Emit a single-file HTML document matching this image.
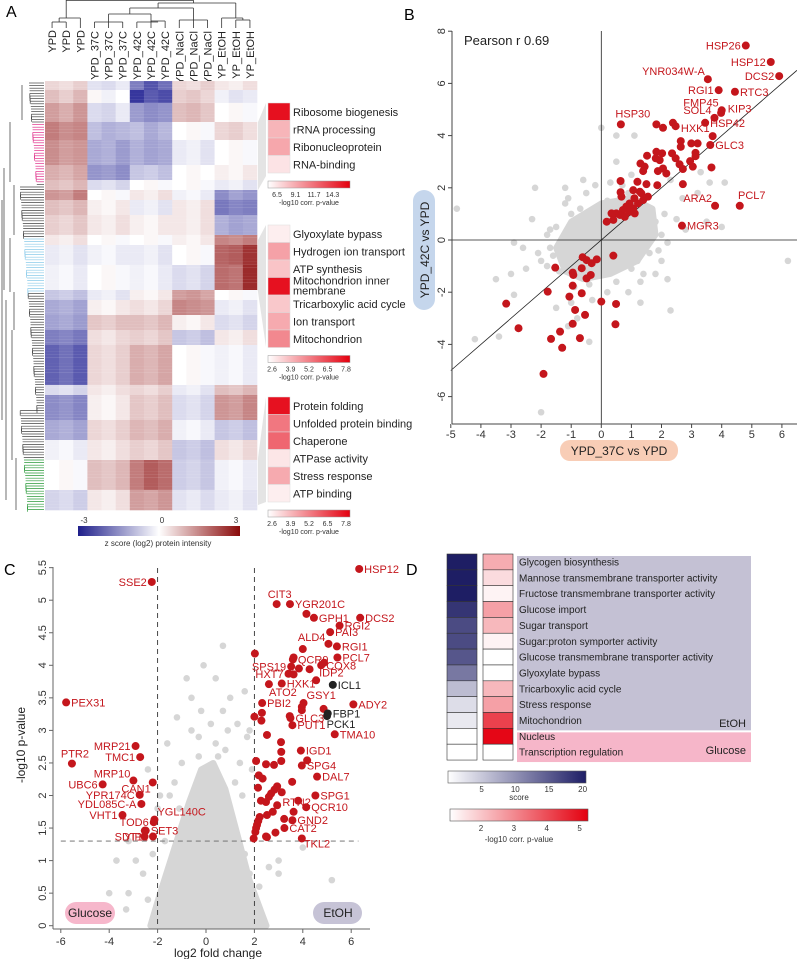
<!DOCTYPE html>
<html><head><meta charset="utf-8"><style>
body{margin:0;background:#fff}
svg{display:block;font-family:"Liberation Sans",Arial,sans-serif}
</style></head><body>
<svg id="fig" width="797" height="959" viewBox="0 0 797 959" xmlns="http://www.w3.org/2000/svg">
<g id="pA"></g>
<g id="pB"></g>
<g id="pC"></g>
<g id="pD"></g>
</svg>
<script>
// ================= DATA =================
const aColumns = ["YPD","YPD","YPD","YPD_37C","YPD_37C","YPD_37C","YPD_42C","YPD_42C","YPD_42C","YPD_NaCl","YPD_NaCl","YPD_NaCl","YP_EtOH","YP_EtOH","YP_EtOH"];
const aBandRows = [9,13,19,18,25,15,10,10,15,20,10,20,25,10,15,15,15,40,10,25,20,20,30,20];
const aBandValues = [
 [0.5,0.4,0.6,-0.4,-0.5,-0.3,-1.8,-2.4,-2.0,0.5,0.4,0.6,0.3,0.2,0.4],
 [0.8,0.6,0.9,0.1,-0.2,0.0,-2.8,-2.3,-2.5,0.6,0.7,0.5,-0.2,-0.4,-0.3],
 [1.2,1.0,1.3,-0.5,-0.6,-0.3,-1.4,-1.6,-1.5,0.8,0.9,0.7,0.0,0.1,-0.1],
 [1.6,1.4,1.5,-0.9,-1.1,-1.0,-0.9,-1.2,-1.0,0.0,0.1,-0.1,0.5,0.6,0.4],
 [1.4,1.2,1.3,-1.2,-1.1,-1.4,-1.1,-1.3,-1.2,-0.3,-0.2,-0.4,0.0,0.1,-0.1],
 [1.0,0.9,1.1,-1.5,-1.4,-1.6,-0.8,-0.7,-0.9,0.0,0.1,0.0,0.2,0.1,0.3],
 [0.8,0.7,0.9,-0.5,-0.4,-0.6,0.0,0.1,-0.1,0.0,0.1,-0.1,-0.3,-0.2,-0.4],
 [1.3,1.2,1.6,0.0,0.1,-0.1,0.3,0.2,0.4,-0.2,-0.1,-0.3,-1.6,-1.3,-1.5],
 [0.8,0.7,0.9,0.2,0.1,0.3,-0.3,-0.2,-0.4,0.3,0.2,0.4,-1.9,-1.7,-1.8],
 [0.6,0.5,0.7,0.3,0.2,0.4,0.2,0.1,0.3,0.3,0.2,0.4,-1.1,-1.3,-1.2],
 [0.3,0.2,0.4,0.0,0.1,-0.1,0.0,0.1,-0.1,0.2,0.1,0.3,1.5,1.4,1.6],
 [-0.3,-0.2,-0.4,-0.2,-0.1,-0.3,-0.3,-0.2,-0.4,0.0,0.1,-0.1,1.9,2.0,2.5],
 [-0.2,-0.1,-0.3,0.0,0.1,-0.1,-0.2,-0.1,-0.3,-0.5,-0.4,-0.6,1.8,1.7,2.6],
 [-0.8,-0.7,-0.9,-0.3,-0.2,-0.4,0.2,0.1,0.3,1.2,1.3,1.1,0.0,0.1,-0.1],
 [-1.2,-1.1,-1.3,0.2,0.1,0.3,0.4,0.3,0.5,1.5,1.4,1.3,-0.3,-0.2,-0.4],
 [-1.3,-1.2,-1.4,0.7,0.6,0.8,0.8,0.7,0.9,0.2,0.1,0.3,-0.5,-0.4,-0.6],
 [-1.8,-1.7,-1.9,0.4,0.3,0.5,0.6,0.5,0.7,-0.8,-0.7,-0.9,0.3,0.2,0.4],
 [-2.2,-2.0,-2.3,0.5,0.4,0.6,1.0,0.9,1.1,0.0,0.1,-0.1,-0.2,-0.1,-0.3],
 [-0.5,-0.4,-0.6,0.3,0.2,0.4,0.5,0.4,0.6,-0.3,-0.2,-0.4,0.8,0.7,0.9],
 [-1.6,-1.5,-1.7,0.2,0.1,0.3,0.7,0.6,0.8,-0.5,-0.4,-0.6,1.3,1.2,1.5],
 [-1.2,-1.1,-1.3,0.5,0.4,0.6,0.9,0.8,1.0,-0.2,-0.1,-0.3,-0.8,-0.7,-0.9],
 [-0.2,-0.1,-0.3,0.3,0.2,0.4,0.6,0.5,0.7,-0.8,-0.7,-0.9,0.4,0.3,0.5],
 [0.0,0.1,-0.1,0.8,0.7,0.9,1.6,2.0,1.8,-0.7,-0.6,-0.8,-0.2,-0.1,-0.3],
 [-0.6,-0.5,-0.7,0.3,0.2,0.4,1.2,1.1,1.3,-0.4,-0.3,-0.5,-0.3,-0.2,-0.4]
];
const aTerms1 = ["Ribosome biogenesis","rRNA processing","Ribonucleoprotein","RNA-binding"];
const aP1 = [14.3,7.2,7.8,5.2];
const aTerms2 = ["Glyoxylate bypass","Hydrogen ion transport","ATP synthesis","Mitochondrion inner membrane","Tricarboxylic acid cycle","Ion transport","Mitochondrion"];
const aP2 = [2.6,4.4,3.6,7.8,3.5,4.2,5.0];
const aTerms3 = ["Protein folding","Unfolded protein binding","Chaperone","ATPase activity","Stress response","ATP binding"];
const aP3 = [7.8,5.4,5.8,2.8,4.2,2.6];

const bRedX = [4.80,5.63,5.91,3.54,3.90,4.44,4.0,3.98,3.76,3.45,3.70,3.62,0.65,3.78,4.6,2.68,
 1.83,2.05,2.38,2.47,2.64,2.64,2.99,3.2,3.13,3.13,2.95,3.04,3.66,2.71,2.71,2.35,2.47,2.6,1.83,2.02,1.81,1.94,2.05,2.16,1.88,1.52,1.30,1.44,1.39,0.64,1.2,1.5,1.86,0.64,0.67,
 1.06,1.28,1.1,0.94,0.83,0.72,0.5,0.34,0.4,0.18,0.94,1.06,1.22,1.39,1.55,1.33,0.78,0.62,1.11,
 0.4,-0.62,-0.49,-0.15,-0.32,-0.65,-1.53,-0.95,-0.93,-0.35,-0.49,-0.95,-1.78,-0.65,-1.06,0,0.49,-3.16,-0.87,-0.54,-0.95,0.47,-2.75,-1.37,-1.67,-0.71,-1.3,-1.92];
const bRedY = [7.45,6.82,6.28,6.16,5.74,5.68,4.97,4.87,4.68,4.49,3.98,3.64,4.43,1.31,1.31,0.55,
 4.43,4.3,4.49,4.36,3.79,3.57,3.7,3.7,3.34,3.21,3.02,2.81,2.78,2.72,2.14,3.32,3.13,2.9,3.38,3.32,3.13,3.06,2.74,2.55,2.64,3.23,2.93,2.81,2.64,2.26,2.23,2.14,2.1,1.83,1.66,
 1.91,1.85,1.6,1.4,1.28,1.15,1.02,1.02,0.77,0.7,1.08,1.21,1.4,1.53,1.66,1.79,0.89,0.96,1.02,
 -0.6,-0.66,-0.77,-0.74,-0.89,-1.08,-1.06,-1.25,-1.34,-1.34,-1.47,-1.75,-1.98,-2.04,-2.17,-2.36,-2.45,-2.44,-2.68,-2.87,-3.21,-3.23,-3.38,-3.51,-3.79,-3.76,-4.13,-5.13];
const bGrayX = [-4.8,-4.2,-3.4,-3.5,-2.2,-1.2,-2.0,-2.9,-2.5,-3.0,-1.8,-1.5,-1.0,-0.4,-2.0,-0.6,-0.2,0.3,0.7,0.0,0.5,1.1,0.5,1.0,2.3,2.7,3.2,3.6,4.1,3.3,4.0,3.5,2.2,2.0,1.8,2.2,1.3,1.0,0.5,0.2,-0.3,-0.8,-1.1,1.3,2.3,-2.9,-2.1,-1.7,-1.2,-1.5,-1.0,-0.5,0.2,-0.3,6.2,
 -1,-0.8,-0.5,0.5,1,0.8,-1.3,-0.7,1.5,1.2,0.3,-0.2,1.8,2.0,-1.8,-1.4,0.0,0.6,1.6,2.5,2.8,-0.9,0.9,1.6,-2.3,-2.6,0.3,-1.6,-1.7,1.9,2.1,-0.4,0.9,-1.1,1.4];
const bGrayY = [1.2,-3.8,-3.7,-1.5,2.0,2.0,-0.8,-2.1,-1.1,-1.3,-1.0,-2.6,-2.4,-3.9,-6.6,2.3,2.1,2.2,2.1,4.3,4.0,4.0,3.0,2.5,2.3,1.6,1.8,2.2,2.2,2.6,0.5,0.7,-0.1,-0.8,-1.3,-1.5,-1.6,-1.1,-1.6,-2.0,-2.3,-3.0,-3.3,-2.4,-2.7,-0.1,-0.5,-0.3,1.4,0.5,1.0,1.8,1.5,0.8,-0.8,
 0,0.6,-0.5,0.5,-0.3,0.3,-0.6,1.2,0.2,-0.8,-1.0,-1.3,0.7,0.2,0.2,-1.2,1.2,1.5,1.1,0.8,0.4,-1.8,-2.0,-0.5,0.8,-0.3,0.9,-0.6,0.4,-0.4,1.0,-1.7,1.8,1.6,-1.3];
const bCoreX = [-1.2,-1.5,-1.0,0,1.0,1.7,1.8,1.2,0.3,-0.6];
const bCoreY = [-1.2,-0.3,0.7,1.4,1.6,1.2,0.2,-0.8,-1.3,-1.5];
const bLabels = [["HSP26",0,"L"],["HSP12",1,"L"],["DCS2",2,"L"],["YNR034W-A",3,"LU"],["RGI1",4,"L"],["RTC3",5,"R"],["FMP45",6,"LU"],["KIP3",6,"R"],["SOL4",8,"LU"],["HSP42",9,"R"],["HXK1",10,"LU"],["GLC3",11,"R"],["HSP30",12,"U"],["ARA2",13,"LU"],["PCL7",14,"U"],["MGR3",15,"R"]];
const bXTicks = [-5,-4,-3,-2,-1,0,1,2,3,4,5,6];
const bYTicks = [-6,-4,-2,0,2,4,6,8];

const cRedX = [6.33,-2.24,2.92,3.47,4.15,4.46,6.37,5.52,5.13,5.06,5.41,4.0,2.02,3.62,3.59,5.43,4.88,4.76,3.52,3.84,4.28,3.41,3.62,4.55,3.13,2.6,6.09,2.32,4.03,3.96,3.96,4.86,2.31,2.0,2.29,3.46,3.49,3.57,5.32,2.52,3.1,3.92,3.11,4.18,3.11,2.07,2.48,2.81,3.96,4.59,2.18,2.34,3.56,2.15,2.94,2.83,2.69,2.6,3.13,4.52,2.27,2.48,2.94,3.81,4.14,2.76,2.52,2.22,3.62,3.23,3.57,2.16,2.11,2.07,3.24,2.04,2.87,2.48,2.52,3.96,1.97,
 -5.78,-2.91,-2.72,-5.54,-3.0,-2.2,-4.27,-2.74,-2.67,-3.45,-2.13,-2.16,-2.49,-2.19,-2.53,-2.54];
const cRedY = [5.48,5.28,4.94,4.94,4.79,4.73,4.73,4.61,4.51,4.33,4.29,4.25,4.18,4.12,4.09,4.12,4.04,4.0,3.98,3.95,3.94,3.87,3.86,3.77,3.72,3.71,3.4,3.42,3.42,3.36,3.31,3.33,3.27,3.21,3.15,3.22,3.19,3.08,2.94,2.93,2.82,2.69,2.67,2.54,2.53,2.53,2.48,2.47,2.46,2.29,2.31,2.26,2.21,2.12,2.14,2.09,2.03,1.98,2.05,2.0,1.92,1.9,1.85,1.92,1.82,1.75,1.7,1.67,1.75,1.64,1.62,1.61,1.55,1.5,1.5,1.44,1.43,1.37,1.36,1.34,1.34,
 3.43,2.76,2.59,2.49,2.23,2.2,2.17,2.01,1.87,1.7,1.63,1.59,1.46,1.37,1.46,1.37];
const cBlackX = [5.24,5.03,5.0];
const cBlackY = [3.7,3.26,3.22];
const cGrayX = [-3.7,-3.2,-3.2,-2.9,-2.2,-1.5,-1.3,-2.0,-1.0,-1.7,-1.2,-1.6,-0.6,-0.2,-0.6,0.7,0.4,0.7,1.0,0.4,1.3,1.6,1.8,1.4,1.9,1.5,-0.8,-0.1,0.8,0.9,-2.4,1.7,-3.3,5.2,1.8,3.0,4.0,3.0,-0.5,-4.0,-2.6,2.6,-0.3,0.2,1.2,-1.9,-1.1,-0.9,-1.4,1.1,1.6,2.2,-2.4,-0.3,0.5];
const cGrayY = [1.0,0.5,1.3,1.0,1.1,2.0,2.2,1.8,2.5,1.3,3.2,2.8,3.5,3.3,3.0,4.3,3.8,3.3,3.5,2.8,3.1,3.6,3.0,2.5,2.4,2.0,3.8,4.0,2.7,3.0,2.4,2.9,0.25,0.7,0.8,1.0,1.2,0.8,1.0,0.5,0.8,0.9,2.9,3.1,2.2,2.0,1.8,1.5,0.9,1.6,1.1,0.6,0.4,2.6,2.6];
const cCoreX = [-2.3,-1.9,-1.3,-0.7,-0.2,0.3,0.8,1.3,1.8,2.2,2.5];
const cCoreY = [0,0.5,1.2,1.9,2.4,2.5,2.1,1.4,0.7,0.3,0];
const cLabels = [["HSP12",0,"R"],["SSE2",1,"L"],["CIT3",2,"U"],["YGR201C",3,"R"],["GPH1",5,"R"],["DCS2",6,"R"],["RGI2",7,"R"],["PAI3",8,"R"],["ALD4",9,"LU"],["RGI1",10,"R"],["QCR9",14,"R"],["PCL7",15,"R"],["COX8",17,"R"],["SPS19",18,"L"],["HXT7",21,"L"],["IDP2",23,"RU"],["HXK1",24,"R"],["ATO2",25,"D"],["ADY2",26,"R"],["PBI2",27,"R"],["GSY1",28,"RU"],["GLC3",36,"R"],["PUT1",37,"R"],["TMA10",38,"R"],["IGD1",41,"R"],["SPG4",48,"R"],["DAL7",49,"R"],["SPG1",59,"R"],["QCR10",64,"R"],["RTN2",68,"U"],["GND2",70,"R"],["CAT2",74,"R"],["TKL2",79,"RD"],
 ["PEX31",81,"R"],["MRP21",82,"L"],["TMC1",83,"L"],["PTR2",84,"U"],["MRP10",85,"LU"],["CAN1",86,"LD"],["UBC6",87,"L"],["YPR174C",88,"L"],["YDL085C-A",89,"L"],["VHT1",90,"L"],["YGL140C",91,"RU"],["TOD6",92,"L"],["SET3",93,"R"],["YIP1",94,"L"],["SDT1",95,"LD"]];
const cBlackLabels = [["ICL1",0,"R"],["FBP1",1,"R"],["PCK1",2,"D"]];
const cXTicks = [-6,-4,-2,0,2,4,6];
const cYTicks = [0,0.5,1,1.5,2,2.5,3,3.5,4,4.5,5,5.5];

const dTerms = ["Glycogen biosynthesis","Mannose transmembrane transporter activity","Fructose transmembrane transporter activity","Glucose import","Sugar transport","Sugar:proton symporter activity","Glucose transmembrane transporter activity","Glyoxylate bypass","Tricarboxylic acid cycle","Stress response","Mitochondrion","Nucleus","Transcription regulation"];
const dScores = [20,20,20,18,16,16,15,12,6,3,2,0,0];
const dPvals = [2.6,1.8,1.4,2.8,2.4,1.4,1.2,1.2,2.4,2.8,4.4,5.4,1.2];
const dScoreTicks = [5,10,15,20];
const dPTicks = [2,3,4,5];

// ================= HELPERS =================
const NS="http://www.w3.org/2000/svg";
function mk(parent,tag,attrs,txt){const e=document.createElementNS(NS,tag);for(const k in attrs)e.setAttribute(k,attrs[k]);if(txt!==undefined)e.textContent=txt;parent.appendChild(e);return e;}
function lerp(a,b,t){return Math.round(a+(b-a)*t);}
function mix(c1,c2,t){t=Math.max(0,Math.min(1,t));return `rgb(${lerp(c1[0],c2[0],t)},${lerp(c1[1],c2[1],t)},${lerp(c1[2],c2[2],t)})`;}
function zColor(z){return z<0?mix([255,255,255],[40,40,150],-z/3):mix([255,255,255],[140,10,10],z/3);}
function pRed(v,lo,hi){return mix([255,255,255],[228,0,16],(v-lo)/(hi-lo));}
const RED="#c4161c", GRAY="#d6d6d6";

// ================= PANEL A =================
(function(){
 const g=document.getElementById('pA');
 let t=mk(g,'text',{x:6,y:17,'font-size':16},'A');
 
 
 const x0=45,x1=257,y0=81,cw=(x1-x0)/aColumns.length;
 const dg=mk(g,'g',{stroke:'#333','stroke-width':0.8,fill:'none'});
 
 
 const cx=i=>x0+cw*(i+0.5);
 const segs=[[cx(0),28,cx(0),22],[cx(1),28,cx(1),22],[cx(0),22,cx(1),22],[cx(2),28,cx(2),20],[(cx(0)+cx(1))/2,22,(cx(0)+cx(1))/2,18],[(cx(0)+cx(1))/2,18,cx(2),18],[cx(2),20,cx(2),18],
 [cx(3),28,cx(3),22],[cx(4),28,cx(4),22],[cx(5),28,cx(5),22],[cx(3),22,cx(5),22],[cx(6),28,cx(6),22],[cx(7),28,cx(7),21],[cx(8),28,cx(8),21],[cx(7),21,cx(8),21],[cx(6),22,cx(7.5),22],[cx(4),22,cx(4),14],[cx(7),22,cx(7),14],[cx(4),14,cx(7),14],
 [cx(9),28,cx(9),20],[cx(10),28,cx(10),20],[cx(11),28,cx(11),20],[cx(9),20,cx(11),20],[cx(10),20,cx(10),8],[cx(5.5),14,cx(5.5),8],[cx(5.5),8,cx(10),8],
 [cx(12),28,cx(12),18],[cx(13),28,cx(13),20],[cx(14),28,cx(14),20],[cx(13),20,cx(14),20],[cx(13.5),20,cx(13.5),18],[cx(12),18,cx(13.5),18],[cx(13),18,cx(13),3],[cx(7.5),8,cx(7.5),3],[cx(7.5),3,cx(13),3],
 [cx(1),18,cx(1),0],[cx(10),3,cx(10),0],[cx(1),0.5,cx(10),0.5]];
 segs.forEach(s=>mk(dg,'line',{x1:s[0],y1:s[1],x2:s[2],y2:s[3]}));
 aColumns.forEach((c,i)=>{const e=mk(g,'text',{transform:`translate(${cx(i)+4},${c.length<4?30:31}) rotate(-90)`,'text-anchor':'end','font-size':11,fill:'#222'},c);
  
  });
 const hm=mk(g,'g',{});
 
 
 let y=y0;
 aBandRows.forEach((h,bi)=>{
  aBandValues[bi].forEach((v,ci)=>{
   const r=mk(hm,'rect',{x:x0+ci*cw,y:y,width:cw+0.3,height:h+0.3,fill:zColor(v)});
   
   
  });
  y+=h;
 });
 for(let yy=y0;yy<y;yy+=3){mk(hm,'rect',{x:x0,y:yy,width:x1-x0,height:1,fill:'#fff',opacity:((yy*7)%5)/40});}
 const rd=mk(g,'g',{'stroke-width':0.7,fill:'none'});
 
 
 for(let yy=y0+2;yy<y;yy+=2.6){
  let col='#444';
  if(yy>122&&yy<182)col='#e0308a';else if(yy>238&&yy<292)col='#8ccbea';else if(yy>458)col='#2a9a3a';
  const len=8+((yy*13)%17);
  mk(rd,'line',{x1:45-len,y1:yy,x2:44,y2:yy,stroke:col});
  if(Math.round(yy)%3===0)mk(rd,'line',{x1:45-len,y1:yy,x2:45-len,y2:yy+5,stroke:col});
 }
 [[22,85,120],[10,122,182],[14,185,235],[10,238,292],[14,292,330],[12,330,460],[16,458,510],[4,168,290],[2,200,420],[6,300,500]].forEach(s=>mk(rd,'line',{x1:s[0],y1:s[1],x2:s[0],y2:s[2],stroke:'#333'}));
 [[122,190,103,176],[240,292,225,347],[458,505,397,502]].forEach(c=>mk(g,'path',{d:`M258,${c[0]} L266,${c[2]} L266,${c[3]} L258,${c[1]}Z`,fill:'#e4e4e4'}));
 function legend(terms,vals,top,lo,hi,ticks,name){
  const lg=mk(g,'g',{});
  
  
  terms.forEach((tm,i)=>{
   const yy=top+i*17.5;
   const r=mk(lg,'rect',{x:268,y:yy,width:22,height:17.5,fill:pRed(vals[i],lo,hi),stroke:'#ddd','stroke-width':0.5});
   
   
   if(tm==="Mitochondrion inner membrane"){mk(lg,'text',{x:293,y:yy+7,'font-size':11,fill:'#222'},'Mitochondrion inner');mk(lg,'text',{x:293,y:yy+17,'font-size':11,fill:'#222'},'membrane');}
   else mk(lg,'text',{x:293,y:yy+13,'font-size':11,fill:'#222'},tm);
  });
  const cy=top+terms.length*17.5+8;
  const gid='grad'+name;
  const d=mk(lg,'defs',{});const gr=mk(d,'linearGradient',{id:gid});
  mk(gr,'stop',{offset:'0','stop-color':'#fff'});mk(gr,'stop',{offset:'1','stop-color':'#e4000f'});
  const cb=mk(lg,'rect',{x:268,y:cy,width:82,height:7,fill:`url(#${gid})`,stroke:'#999','stroke-width':0.5});
  
  
  ticks.forEach((tk,i)=>mk(lg,'text',{x:272+i*18.5+(ticks.length===4?5:0),y:cy+16,'font-size':7,'text-anchor':'middle',fill:'#333'},tk));
  mk(lg,'text',{x:309,y:cy+24,'font-size':7,'text-anchor':'middle',fill:'#333'},'-log10 corr. p-value');
 }
 legend(aTerms1,aP1,103,4,15,['6.5','9.1','11.7','14.3'],'legend-cluster-1');
 legend(aTerms2,aP2,225,2.2,8.2,['2.6','3.9','5.2','6.5','7.8'],'legend-cluster-2');
 legend(aTerms3,aP3,397,2.2,8.2,['2.6','3.9','5.2','6.5','7.8'],'legend-cluster-3');
 const d=mk(g,'defs',{});const gr=mk(d,'linearGradient',{id:'zgrad'});
 mk(gr,'stop',{offset:'0','stop-color':'#1e1e8a'});mk(gr,'stop',{offset:'0.5','stop-color':'#fff'});mk(gr,'stop',{offset:'1','stop-color':'#8a0a0a'});
 const zb=mk(g,'rect',{x:78,y:526,width:162,height:10,fill:'url(#zgrad)'});
 
 
 [['-3',84],['0',162],['3',236]].forEach(a=>mk(g,'text',{x:a[1],y:523,'font-size':8,'text-anchor':'middle',fill:'#333'},a[0]));
 mk(g,'text',{x:158,y:546,'font-size':8,'text-anchor':'middle',fill:'#333'},'z score (log2) protein intensity');
})();

// ================= PANEL B =================
(function(){
 const g=document.getElementById('pB');
 const X=v=>601.3+30.1*v, Y=v=>240-26.1*v;
 let t=mk(g,'text',{x:404,y:20,'font-size':16},'B');
 
 
 mk(g,'path',{d:'M'+bCoreX.map((x,i)=>X(x)+','+Y(bCoreY[i])).join(' L')+'Z',fill:GRAY,stroke:GRAY,'stroke-width':6,'stroke-linejoin':'round'});
 bGrayX.forEach((x,i)=>{const c=mk(g,'circle',{cx:X(x),cy:Y(bGrayY[i]),r:3.3,fill:GRAY});
  
  });
 mk(g,'line',{x1:X(0),y1:31,x2:X(0),y2:424,stroke:'#222','stroke-width':0.8});
 mk(g,'line',{x1:452,y1:Y(0),x2:797,y2:Y(0),stroke:'#222','stroke-width':0.8});
 const dl=mk(g,'line',{x1:X(-5),y1:Y(-5),x2:X(6.5),y2:Y(6.5),stroke:'#222','stroke-width':0.8});
 
 
 bRedX.forEach((x,i)=>{const c=mk(g,'circle',{cx:X(x),cy:Y(bRedY[i]),r:4,fill:RED});
  
  });
 bLabels.forEach(l=>{const px=X(bRedX[l[1]]),py=Y(bRedY[l[1]]);let x=px,y=py+4,a='start';
  if(l[2]==='L'){x=px-5;a='end';}else if(l[2]==='R'){x=px+5;}else if(l[2]==='LU'){x=px-3;y=py-4;a='end';}else if(l[2]==='U'){x=px+12;y=py-7;a='middle';}
  if(l[0]==='KIP3'){x=px+6;y=py+2;}
  const e=mk(g,'text',{x:x,y:y,'font-size':11,fill:RED,'text-anchor':a},l[0]);
  
  });
 mk(g,'line',{x1:452,y1:31,x2:452,y2:424,stroke:'#444'});
 mk(g,'line',{x1:452,y1:424,x2:797,y2:424,stroke:'#444'});
 bXTicks.forEach(v=>{mk(g,'line',{x1:X(v),y1:424,x2:X(v),y2:428,stroke:'#444'});mk(g,'text',{x:X(v),y:438,'font-size':11,'text-anchor':'middle',fill:'#333'},v);});
 bYTicks.forEach(v=>{mk(g,'line',{x1:448,y1:Y(v),x2:452,y2:Y(v),stroke:'#444'});mk(g,'text',{transform:`translate(445,${Y(v)}) rotate(-90)`,'font-size':11,'text-anchor':'middle',fill:'#333'},v);});
 mk(g,'text',{x:464,y:45,'font-size':13,fill:'#222'},'Pearson r 0.69');
 const yp=mk(g,'rect',{x:413,y:190,width:22,height:120,rx:11,fill:'#c5d6ec'});
 
 
 mk(g,'text',{transform:'translate(429,250) rotate(-90)','font-size':12,'text-anchor':'middle',fill:'#222'},'YPD_42C vs YPD');
 const xp=mk(g,'rect',{x:560,y:440,width:118,height:21,rx:10,fill:'#f8cdb6'});
 
 
 mk(g,'text',{x:619,y:455,'font-size':12,'text-anchor':'middle',fill:'#222'},'YPD_37C vs YPD');
})();

// ================= PANEL C =================
(function(){
 const g=document.getElementById('pC');
 const X=v=>206+24.2*v, Y=v=>925.7-65.1*v;
 let t=mk(g,'text',{x:4,y:575,'font-size':16},'C');
 
 
 mk(g,'path',{d:'M'+cCoreX.map((x,i)=>X(x)+','+Y(cCoreY[i])).join(' L')+'Z',fill:GRAY,stroke:GRAY,'stroke-width':6,'stroke-linejoin':'round'});
 cGrayX.forEach((x,i)=>{const c=mk(g,'circle',{cx:X(x),cy:Y(cGrayY[i]),r:3.3,fill:GRAY});
  
  });
 const dash={stroke:'#333','stroke-width':0.9,'stroke-dasharray':'5,4'};
 mk(g,'line',Object.assign({x1:X(-2),y1:568,x2:X(-2),y2:927},dash));
 mk(g,'line',Object.assign({x1:X(2),y1:568,x2:X(2),y2:927},dash));
 mk(g,'line',Object.assign({x1:X(-6),y1:Y(1.3),x2:X(6.3),y2:Y(1.3)},dash,{stroke:'#666'}));
 cRedX.forEach((x,i)=>{const c=mk(g,'circle',{cx:X(x),cy:Y(cRedY[i]),r:4,fill:RED});
  
  });
 cBlackX.forEach((x,i)=>{const c=mk(g,'circle',{cx:X(x),cy:Y(cBlackY[i]),r:4,fill:'#222'});
  
  });
 function lab(name,px,py,side,col){let x=px+5,y=py+4,a='start';
  if(side==='L'){x=px-5;a='end';}else if(side==='U'){x=px+3;y=py-6;a='middle';}else if(side==='LU'){x=px-3;y=py-3;a='end';}
  else if(side==='RU'){x=px+3;y=py-4;}else if(side==='D'){x=px+14;y=py+12;a='middle';}else if(side==='RD'){x=px+2;y=py+9;}else if(side==='LD'){x=px-2;y=py+10;a='end';}
  const e=mk(g,'text',{x:x,y:y,'font-size':11,fill:col,'text-anchor':a},name);
  
  }
 cLabels.forEach(l=>lab(l[0],X(cRedX[l[1]]),Y(cRedY[l[1]]),l[2],RED));
 cBlackLabels.forEach(l=>lab(l[0],X(cBlackX[l[1]]),Y(cBlackY[l[1]]),l[2],'#222'));
 mk(g,'line',{x1:53,y1:567,x2:53,y2:929,stroke:'#666'});
 mk(g,'line',{x1:53,y1:929,x2:370,y2:929,stroke:'#666'});
 cXTicks.forEach(v=>{mk(g,'line',{x1:X(v),y1:929,x2:X(v),y2:933,stroke:'#666'});mk(g,'text',{x:X(v),y:945,'font-size':11,'text-anchor':'middle',fill:'#333'},v);});
 cYTicks.forEach(v=>{mk(g,'line',{x1:49,y1:Y(v),x2:53,y2:Y(v),stroke:'#666'});mk(g,'text',{transform:`translate(46,${Y(v)}) rotate(-90)`,'font-size':11,'text-anchor':'middle',fill:'#333'},v);});
 mk(g,'text',{x:218,y:957,'font-size':12,'text-anchor':'middle',fill:'#222'},'log2 fold change');
 mk(g,'text',{transform:'translate(25,745) rotate(-90)','font-size':12,'text-anchor':'middle',fill:'#222'},'-log10 p-value');
 const p1=mk(g,'rect',{x:65,y:902,width:50,height:22,rx:11,fill:'#f6b7cb'});
 
 
 mk(g,'text',{x:90,y:917,'font-size':12,'text-anchor':'middle',fill:'#222'},'Glucose');
 const p2=mk(g,'rect',{x:313,y:902,width:49,height:22,rx:11,fill:'#c6c3d6'});
 
 
 mk(g,'text',{x:338,y:917,'font-size':12,'text-anchor':'middle',fill:'#222'},'EtOH');
})();

// ================= PANEL D =================
(function(){
 const g=document.getElementById('pD');
 let t=mk(g,'text',{x:406,y:575,'font-size':16},'D');
 
 
 const top=554,rh=15.85;
 mk(g,'rect',{x:517,y:556,width:234,height:11*rh,fill:'#c4c1d4'});
 mk(g,'rect',{x:517,y:556+11*rh+2,width:234,height:2*rh-2,fill:'#f6b6c9'});
 dScores.forEach((s,i)=>{
  const r=mk(g,'rect',{x:447,y:top+i*rh,width:30,height:rh,fill:mix([255,255,255],[30,30,100],s/20),stroke:'#333','stroke-width':0.6});
  
  
 });
 dPvals.forEach((p,i)=>{
  const r=mk(g,'rect',{x:483,y:top+i*rh,width:30,height:rh,fill:pRed(p,1.2,5.5),stroke:'#333','stroke-width':0.6});
  
  
 });
 dTerms.forEach((tm,i)=>{const e=mk(g,'text',{x:519,y:top+i*rh+11.5,'font-size':10,fill:'#222'},tm);
  
  });
 mk(g,'text',{x:746,y:727,'font-size':11,'text-anchor':'end',fill:'#222'},'EtOH');
 mk(g,'text',{x:746,y:754,'font-size':11,'text-anchor':'end',fill:'#222'},'Glucose');
 const d=mk(g,'defs',{});
 let gr=mk(d,'linearGradient',{id:'sgrad'});mk(gr,'stop',{offset:'0','stop-color':'#fff'});mk(gr,'stop',{offset:'1','stop-color':'#1e1e66'});
 gr=mk(d,'linearGradient',{id:'pgrad'});mk(gr,'stop',{offset:'0','stop-color':'#fff'});mk(gr,'stop',{offset:'1','stop-color':'#e4000f'});
 const sb=mk(g,'rect',{x:448,y:771,width:138,height:12,fill:'url(#sgrad)',stroke:'#555','stroke-width':0.6});
 
 
 const sX=v=>448+138*v/20.5;
 dScoreTicks.forEach(v=>mk(g,'text',{x:sX(v),y:792,'font-size':8,'text-anchor':'middle',fill:'#333'},v));
 mk(g,'text',{x:519,y:800,'font-size':8,'text-anchor':'middle',fill:'#333'},'score');
 const pb=mk(g,'rect',{x:450,y:809,width:138,height:12,fill:'url(#pgrad)',stroke:'#555','stroke-width':0.6});
 
 
 const pX=v=>450+138*(v-1.3)/(5.5-1.3);
 dPTicks.forEach(v=>mk(g,'text',{x:pX(v)+8,y:831,'font-size':8,'text-anchor':'middle',fill:'#333'},v));
 mk(g,'text',{x:519,y:842,'font-size':8,'text-anchor':'middle',fill:'#333'},'-log10 corr. p-value');
})();
</script>
</body></html>
